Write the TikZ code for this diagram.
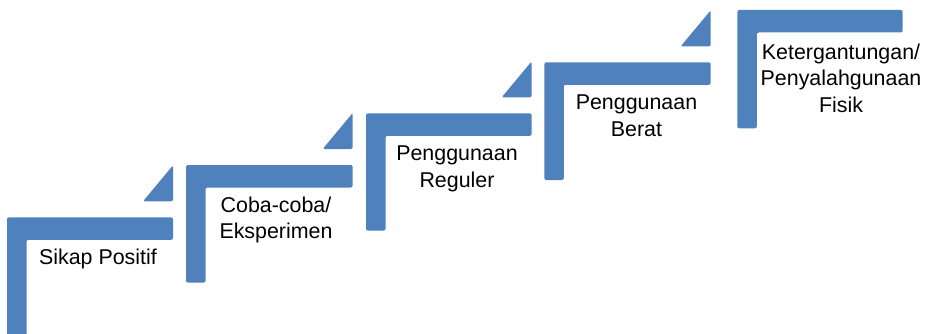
\documentclass[tikz,border=0pt]{standalone}
\usepackage{fontspec}
\setmainfont{Liberation Sans}
\definecolor{stepblue}{RGB}{79,129,189}
\begin{document}
\begin{tikzpicture}[x=1pt,y=-1pt,
  stairfill/.style={fill=stepblue, rounded corners=2pt},
  stairlabel/.style={anchor=north, align=center, inner sep=0pt, text=black,
    font=\fontsize{21.4}{26.5}\selectfont}]
\useasboundingbox (0,0) rectangle (925,334);
\clip (0,0) rectangle (925,334);
% L-shaped steps: left, top, right, bottom
\foreach \l/\t/\r/\b in {7/217.3/173/345, 186/165/352.7/282.7, 366/113.3/531.7/230.7,
                         544.3/62.3/710.7/180, 737.3/10/902.7/128.3}{
  \fill[stairfill] (\l,\b) -- (\l,\t) -- (\r,\t) -- (\r,\t+22.5)
    -- (\l+19.5,\t+22.5) -- (\l+19.5,\b) -- cycle;
}
% small triangles rising towards the next step
\foreach \t/\r in {217.3/173, 165/352.7, 113.3/531.7, 62.3/710.7}{
  \fill[stairfill] (\r-30,\t-16) -- (\r,\t-16) -- (\r,\t-52) -- cycle;
}
% labels
\node[stairlabel] (sikap)   at (98,248.3)  {Sikap Positif};
\node[stairlabel] (coba)    at (276,196.7) {Coba-coba/\\Eksperimen};
\node[stairlabel] (reguler) at (457,145.7) {Penggunaan\\Reguler};
\node[stairlabel] (berat)   at (636.5,95)  {Penggunaan\\Berat};
\node[stairlabel] (fisik)   at (841,43.3)  {Ketergantungan/\\Penyalahgunaan\\Fisik};
\end{tikzpicture}
\end{document}
